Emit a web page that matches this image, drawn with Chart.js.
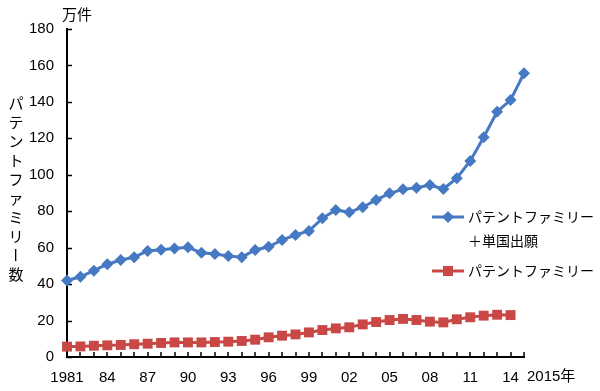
<!DOCTYPE html>
<html>
<head>
<meta charset="utf-8">
<script src="https://cdn.jsdelivr.net/npm/chart.js@4"></script>
<style>
  html, body { margin: 0; padding: 0; background: #fff; }
  #wrap { width: 600px; height: 391px; position: relative; }
</style>
</head>
<body>
<div id="wrap"><canvas id="chart"></canvas></div>
<script>
'use strict';

const YEARS = [
  '1981', '1982', '1983', '1984', '1985', '1986', '1987', '1988', '1989', '1990',
  '1991', '1992', '1993', '1994', '1995', '1996', '1997', '1998', '1999', '2000',
  '2001', '2002', '2003', '2004', '2005', '2006', '2007', '2008', '2009', '2010',
  '2011', '2012', '2013', '2014', '2015',
];
const SHOWN_YEARS = ['1981', '84', '87', '90', '93', '96', '99', '02', '05', '08', '11', '14'];

// 万件
const FAMILY_PLUS_SINGLE = [
  42.0, 44.0, 47.4, 50.9, 53.2, 54.8, 58.2, 58.8, 59.5, 60.2,
  57.2, 56.5, 55.4, 54.8, 58.7, 60.5, 64.2, 67.0, 69.2, 76.1,
  80.7, 79.4, 82.2, 86.2, 89.8, 92.0, 92.9, 94.4, 92.2, 98.1,
  107.6, 120.6, 134.6, 141.0, 155.7,
];
const FAMILY = [
  5.7, 5.8, 6.2, 6.4, 6.6, 7.0, 7.3, 7.7, 8.0, 8.0,
  8.0, 8.2, 8.4, 8.8, 9.5, 10.8, 11.7, 12.4, 13.5, 14.8,
  15.7, 16.3, 17.9, 19.2, 20.3, 20.9, 20.3, 19.4, 19.0, 20.7,
  21.8, 22.7, 23.2, 23.0, null,
];

const LABEL_PLUS = ['パテントファミリー', '＋単国出願'];
const LABEL_FAMILY = 'パテントファミリー';
const Y_TITLE = ['パ', 'テ', 'ン', 'ト', 'フ', 'ァ', 'ミ', 'リ', 'ー', '数'];
const UNIT = '万件';
const LAST_YEAR = '2015年';

const BLUE = '#4679c4';
const RED  = '#c94846';
const FONT = "'Liberation Sans', Arial, 'Noto Sans CJK JP', sans-serif";
const JP_FONT = "'Noto Sans CJK JP', sans-serif";

function diamond(ctx, x, y, r) {
  ctx.beginPath();
  ctx.moveTo(x, y - r);
  ctx.lineTo(x + r, y);
  ctx.lineTo(x, y + r);
  ctx.lineTo(x - r, y);
  ctx.closePath();
  ctx.fill();
}

const decor = {
  id: 'decor',
  beforeDatasetsDraw(chart) {
    const { ctx, chartArea: a, scales: { x, y } } = chart;
    ctx.save();
    ctx.strokeStyle = '#000';
    ctx.lineWidth = 1.5;
    ctx.beginPath();
    y.ticks.forEach(t => {
      const py = Math.round(y.getPixelForValue(t.value)) + 0.5;
      ctx.moveTo(a.left, py);
      ctx.lineTo(a.left + 5, py);
    });
    YEARS.forEach((_, i) => {
      const px = Math.round(x.getPixelForValue(i));
      ctx.moveTo(px, a.bottom);
      ctx.lineTo(px, a.bottom - 5);
    });
    ctx.stroke();
    ctx.restore();
  },
  afterDraw(chart) {
    const { ctx, chartArea: a, scales: { x } } = chart;
    ctx.save();
    ctx.fillStyle = '#000';

    // unit
    ctx.font = '15px ' + JP_FONT;
    ctx.textAlign = 'center';
    ctx.textBaseline = 'middle';
    ctx.fillText(UNIT, a.left + 10, 14);

    // vertical axis title
    Y_TITLE.forEach((ch, i) => {
      const cy = 103 + i * 19;
      if (ch === 'ー') {
        ctx.save();
        ctx.translate(16, cy);
        ctx.rotate(Math.PI / 2);
        ctx.fillText(ch, 0, 0);
        ctx.restore();
      } else {
        ctx.fillText(ch, 16, cy);
      }
    });

    // last year label
    ctx.font = '15px ' + FONT;
    ctx.textAlign = 'left';
    ctx.fillText(LAST_YEAR, x.getPixelForValue(YEARS.length - 1) + 3, 377);

    // legend
    const lx = a.right - 92;
    ctx.lineWidth = 3;
    ctx.strokeStyle = BLUE;
    ctx.fillStyle = BLUE;
    ctx.beginPath();
    ctx.moveTo(lx, 217); ctx.lineTo(lx + 32, 217);
    ctx.stroke();
    diamond(ctx, lx + 16, 217, 6);

    ctx.strokeStyle = RED;
    ctx.fillStyle = RED;
    ctx.beginPath();
    ctx.moveTo(lx, 271); ctx.lineTo(lx + 32, 271);
    ctx.stroke();
    ctx.fillRect(lx + 11, 266, 10, 10);

    ctx.fillStyle = '#000';
    ctx.font = '14px ' + JP_FONT;
    ctx.textAlign = 'left';
    ctx.fillText(LABEL_PLUS[0], lx + 36, 217);
    ctx.fillText(LABEL_PLUS[1], lx + 36, 241);
    ctx.fillText(LABEL_FAMILY, lx + 36, 271);
    ctx.restore();
  },
};

new Chart(document.getElementById('chart'), {
  type: 'line',
  data: {
    labels: YEARS,
    datasets: [
      {
        label: LABEL_PLUS.join(''),
        data: FAMILY_PLUS_SINGLE,
        borderColor: BLUE,
        backgroundColor: BLUE,
        borderWidth: 3,
        pointStyle: 'rectRot',
        pointRadius: 6,
        pointBorderWidth: 0,
        tension: 0,
        clip: false,
      },
      {
        label: LABEL_FAMILY,
        data: FAMILY,
        borderColor: RED,
        backgroundColor: RED,
        borderWidth: 3,
        pointStyle: 'rect',
        pointRadius: 7,
        pointBorderWidth: 0,
        tension: 0,
        clip: false,
      },
    ],
  },
  plugins: [decor],
  options: {
    responsive: true,
    maintainAspectRatio: false,
    animation: false,
    layout: { padding: { top: 29, right: 76, left: 0, bottom: 0 } },
    plugins: {
      legend: { display: false },
      tooltip: { enabled: false },
    },
    scales: {
      x: {
        offset: false,
        grid: { display: false },
        border: { display: true, color: '#000', width: 2 },
        afterFit: s => { s.height = 34; },
        ticks: {
          autoSkip: false,
          maxRotation: 0,
          padding: 4,
          color: '#000',
          font: { size: 15, family: FONT },
          callback: (v, i) => (i % 3 === 0 && SHOWN_YEARS[i / 3]) || '',
        },
      },
      y: {
        min: 0,
        max: 180,
        grid: { display: false },
        border: { display: true, color: '#000', width: 2 },
        afterFit: s => { s.width = 67; },
        ticks: {
          stepSize: 20,
          padding: 5,
          color: '#000',
          font: { size: 15, family: FONT },
        },
      },
    },
  },
});
</script>
</body>
</html>
